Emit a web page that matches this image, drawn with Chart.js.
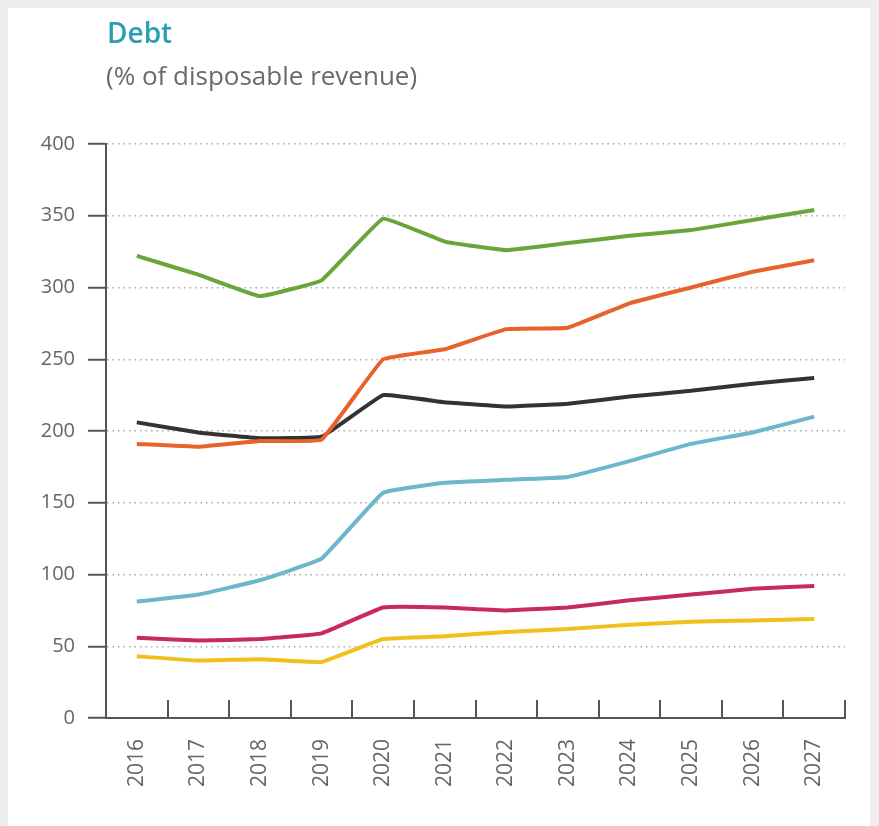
<!DOCTYPE html>
<html>
<head>
<meta charset="utf-8">
<script src="https://cdn.jsdelivr.net/npm/chart.js@4.4.0/dist/chart.umd.min.js"></script>
<style>
    html, body { margin: 0; padding: 0; background: #eeeeee; }
    #panel { position: absolute; left: 8px; top: 8px; width: 862px; height: 830px; background: #ffffff; }
    #wrap { position: absolute; left: 0; top: 0; width: 879px; height: 826px; }
    .title { position: absolute; left: 107px; top: 18px; line-height: 1; font-family: 'Open Sans', sans-serif; font-size: 28px; font-weight: 600; color: #2a9fb2; }
    .subtitle { position: absolute; left: 106px; top: 62px; line-height: 1; font-family: 'Open Sans', sans-serif; font-size: 26px; color: #6a6a6a; }
</style>
</head>
<body>
<div id="panel"></div>
<div id="wrap"><canvas id="debtChart" width="879" height="826"></canvas></div>
<div class="title">Debt</div>
<div class="subtitle">(% of disposable revenue)</div>
<script>
// ==================== DATA ====================

const years = ['2016', '2017', '2018', '2019', '2020', '2021', '2022', '2023', '2024', '2025', '2026', '2027'];
const yTicks = [0, 50, 100, 150, 200, 250, 300, 350, 400];

const greenSeries  = [322, 309, 294, 305, 348, 332, 326, 331, 336, 340, 347, 354];
const orangeSeries = [191, 189, 193, 194, 250, 257, 271, 272, 289, 300, 311, 319];
const blackSeries  = [206, 199, 195, 196, 225, 220, 217, 219, 224, 228, 233, 237];
const blueSeries   = [81, 86, 96, 111, 157, 164, 166, 168, 179, 191, 199, 210];
const pinkSeries   = [56, 54, 55, 59, 77, 77, 75, 77, 82, 86, 90, 92];
const yellowSeries = [43, 40, 41, 39, 55, 57, 60, 62, 65, 67, 68, 69];

// ==================== CHART ====================

const AXIS_COLOR = '#555555';
const LABEL_COLOR = '#666666';

function makeLine(data, color) {
    return {
        data: data,
        borderColor: color,
        backgroundColor: color,
        borderWidth: 4,
        pointRadius: 0,
        tension: 0.08,
        fill: false
    };
}

// x-axis tick marks sit between the years and point upward into the plot
const upTicksPlugin = {
    id: 'upTicks',
    afterDraw(chart) {
        const xs = chart.scales.x;
        const ctx = chart.ctx;
        const bottom = chart.chartArea.bottom;
        ctx.save();
        ctx.strokeStyle = AXIS_COLOR;
        ctx.lineWidth = 2;
        ctx.beginPath();
        for (let i = 1; i <= years.length; i++) {
            let x;
            if (i < years.length) {
                x = (xs.getPixelForValue(i - 1) + xs.getPixelForValue(i)) / 2;
            } else {
                x = chart.chartArea.right;
            }
            x = Math.round(x);
            ctx.moveTo(x, bottom);
            ctx.lineTo(x, bottom - 18);
        }
        ctx.stroke();
        ctx.restore();
    }
};

new Chart(document.getElementById('debtChart'), {
    type: 'line',
    data: {
        labels: years,
        datasets: [
            makeLine(greenSeries, '#6aa53a'),
            makeLine(orangeSeries, '#e8632b'),
            makeLine(blackSeries, '#333333'),
            makeLine(blueSeries, '#6db6cb'),
            makeLine(pinkSeries, '#c82a5a'),
            makeLine(yellowSeries, '#f0c01e')
        ]
    },
    options: {
        responsive: false,
        animation: false,
        layout: { padding: { top: 144, right: 34, bottom: 0, left: 0 } },
        plugins: {
            legend: { display: false },
            tooltip: { enabled: false }
        },
        scales: {
            x: {
                offset: true,
                afterFit(scale) { scale.height = 108; },
                grid: { display: false, drawTicks: false },
                border: { display: true, color: AXIS_COLOR, width: 2 },
                ticks: {
                    color: LABEL_COLOR,
                    font: { family: 'Open Sans', size: 21 },
                    maxRotation: 90,
                    minRotation: 90,
                    autoSkip: false,
                    padding: 21
                }
            },
            y: {
                min: 0,
                max: 400,
                afterFit(scale) { scale.width = 106; },
                afterBuildTicks(scale) { scale.ticks = yTicks.map(v => ({ value: v })); },
                grid: {
                    color: '#a8a8a8',
                    lineWidth: 1.5,
                    tickLength: 18,
                    tickColor: AXIS_COLOR,
                    tickWidth: 2,
                    tickBorderDash: []
                },
                border: { display: true, color: AXIS_COLOR, width: 2, dash: [1.5, 4] },
                ticks: {
                    color: LABEL_COLOR,
                    font: { family: 'Open Sans', size: 20 },
                    padding: 13
                }
            }
        }
    },
    plugins: [upTicksPlugin]
});
</script>
</body>
</html>
